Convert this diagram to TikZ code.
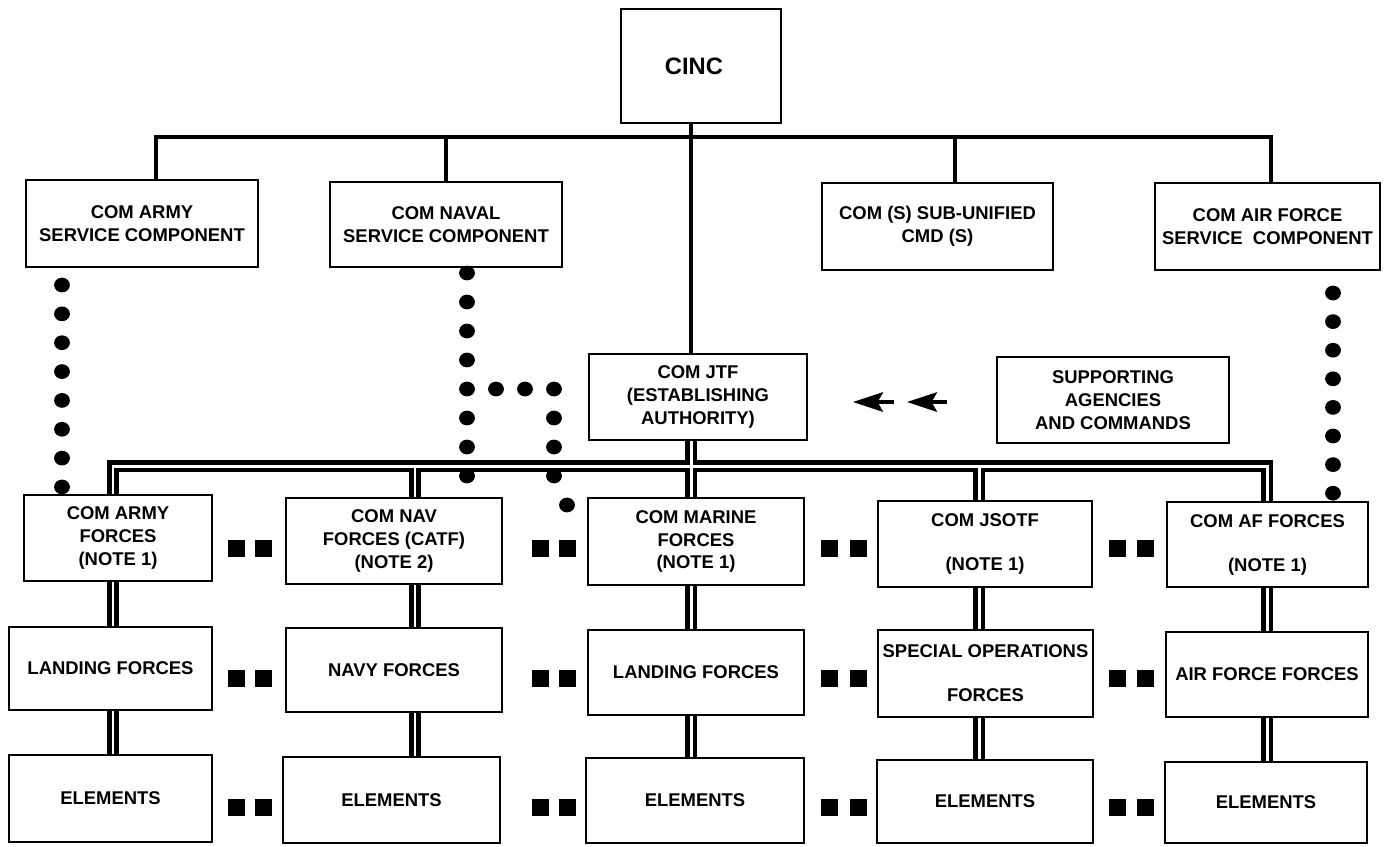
\documentclass[tikz,border=0pt]{standalone}
\usepackage{fontspec}
\setmainfont{Liberation Sans}
\usetikzlibrary{arrows.meta,backgrounds}
\tikzset{
  box/.style={draw, line width=1.5pt, fill=white, align=center, inner sep=0pt,
    font=\fontsize{10.5}{13}\selectfont\bfseries},
  conn/.style={line width=2.3pt, line cap=rect},
  dblout/.style={line width=7pt, black},
  dblin/.style={line width=1.7pt, white},
  arr/.style={line width=2.4pt, -{Stealth[length=17pt,width=11pt,inset=3pt]}},
  dot/.style={black},
  sq/.style={black}
}
\newcommand\bx[6]{%
  \pgfmathsetmacro\bw{(#3-#1)*0.02}%
  \pgfmathsetmacro\bh{(#4-#2)*0.02}%
  \node[box, minimum width=\bw cm, minimum height=\bh cm] (#5) at ({(#1+#3)/2},{(#2+#4)/2}) {#6};}
\newcommand\sqpair[3]{%
  \fill[sq] ({#1-8.5},{#3-8.5}) rectangle ({#1+8.5},{#3+8.5});
  \fill[sq] ({#2-8.5},{#3-8.5}) rectangle ({#2+8.5},{#3+8.5});}
\begin{document}
\begin{tikzpicture}[x=0.02cm, y=-0.02cm]
\useasboundingbox (0,0) rectangle (1389,846);
% boxes
\bx{621}{9}{781}{123}{cinc}{\fontsize{13.5}{16}\selectfont CINC\hspace*{8pt}}
\bx{26}{180}{258}{267}{armySvc}{COM ARMY\\SERVICE COMPONENT}
\bx{330}{182}{562}{267}{navSvc}{COM NAVAL\\SERVICE COMPONENT}
\bx{822}{183}{1053}{270}{subSvc}{COM (S) SUB-UNIFIED\\CMD (S)}
\bx{1155}{183}{1380}{270}{afSvc}{COM AIR FORCE\\SERVICE\ \ COMPONENT}
\bx{589}{354}{807}{440}{jtf}{COM JTF\\(ESTABLISHING\\AUTHORITY)}
\bx{997}{357}{1229}{443}{sup}{SUPPORTING\\AGENCIES\\AND COMMANDS}
\bx{24}{495}{212}{581}{armyF}{COM ARMY\\FORCES\\(NOTE 1)}
\bx{286}{498}{502}{584}{navF}{COM NAV\\FORCES (CATF)\\(NOTE 2)}
\bx{588}{498}{804}{585}{marF}{COM MARINE\\FORCES\\(NOTE 1)}
\bx{878}{501}{1092}{587}{jsF}{COM JSOTF\\[12pt](NOTE 1)}
\bx{1167}{502}{1368}{587}{afF}{COM AF FORCES\\[12pt](NOTE 1)}
\bx{9}{627}{212}{710}{landA}{LANDING FORCES}
\bx{286}{628}{502}{712}{navy}{NAVY FORCES}
\bx{588}{630}{804}{715}{landM}{LANDING FORCES}
\bx{878}{630}{1093}{717}{spec}{SPECIAL OPERATIONS\\[12pt]FORCES}
\bx{1166}{632}{1368}{717}{aff}{AIR FORCE FORCES}
\bx{9}{755}{212}{842}{elA}{ELEMENTS}
\bx{283}{757}{500}{843}{elN}{ELEMENTS}
\bx{586}{758}{804}{843}{elM}{ELEMENTS}
\bx{877}{760}{1093}{843}{elJ}{ELEMENTS}
\bx{1165}{762}{1367}{843}{elF}{ELEMENTS}
% coordinates
\coordinate (tL) at (156,137);
\coordinate (tN) at (446,137);
\coordinate (tC) at (691,137);
\coordinate (tS) at (955,137);
\coordinate (tR) at (1271,137);
\coordinate (bA) at (113,466);
\coordinate (bN) at (415,466);
\coordinate (bM) at (691,466);
\coordinate (bJ) at (979,466);
\coordinate (bF) at (1267,466);
\coordinate (a1s) at (894,402);
\coordinate (a1t) at (853,402);
\coordinate (a2s) at (947,402);
\coordinate (a2t) at (907,402);
\begin{pgfonlayer}{background}
  % single-line tree
  \draw[conn, line join=miter] (armySvc.north -| tL) -- (tL) -- (tR) -- (afSvc.north -| tR);
  \draw[conn] (navSvc.north -| tN) -- (tN);
  \draw[conn] (subSvc.north -| tS) -- (tS);
  \draw[conn] (cinc.south -| tC) -- (jtf.north -| tC);
  % double lines
  \foreach \s in {dblout,dblin}{
    \draw[\s, line join=miter] (armyF.north -| bA) -- (bA) -- (bF) -- (afF.north -| bF);
    \draw[\s] (bN) -- (navF.north -| bN);
    \draw[\s] (jtf.south -| bM) -- (marF.north -| bM);
    \draw[\s] (bJ) -- (jsF.north -| bJ);
    \draw[\s] (armyF.south -| bA) -- (landA.north -| bA);
    \draw[\s] (landA.south -| bA) -- (elA.north -| bA);
    \draw[\s] (navF.south -| bN) -- (navy.north -| bN);
    \draw[\s] (navy.south -| bN) -- (elN.north -| bN);
    \draw[\s] (marF.south -| bM) -- (landM.north -| bM);
    \draw[\s] (landM.south -| bM) -- (elM.north -| bM);
    \draw[\s] (jsF.south -| bJ) -- (spec.north -| bJ);
    \draw[\s] (spec.south -| bJ) -- (elJ.north -| bJ);
    \draw[\s] (afF.south -| bF) -- (aff.north -| bF);
    \draw[\s] (aff.south -| bF) -- (elF.north -| bF);
  }
\end{pgfonlayer}
% arrows from supporting agencies
\draw[arr] (a1s) -- (a1t);
\draw[arr] (a2s) -- (a2t);
% dotted chains
\foreach \i in {0,...,7}{
  \fill[dot] (62,{285+28.85*\i}) circle[x radius=4.5pt, y radius=4.2pt];
  \fill[dot] (1333,{293+28.6*\i}) circle[x radius=4.5pt, y radius=4.2pt];
}
\foreach \y in {273,302,331,360,389,418,447,476}{
  \fill[dot] (467,\y) circle[x radius=4.5pt, y radius=4.2pt];
}
\foreach \x in {496,525,554}{
  \fill[dot] (\x,389) circle[x radius=4.5pt, y radius=4.2pt];
}
\foreach \y in {418,447,476}{
  \fill[dot] (554,\y) circle[x radius=4.5pt, y radius=4.2pt];
}
\fill[dot] (567,505) circle[x radius=4.5pt, y radius=4.2pt];
% square pairs
\foreach \r in {548,678,807}{
  \sqpair{236}{263}{\r}
  \sqpair{540}{567}{\r}
  \sqpair{829}{858}{\r}
  \sqpair{1117}{1145}{\r}
}
\end{tikzpicture}
\end{document}
